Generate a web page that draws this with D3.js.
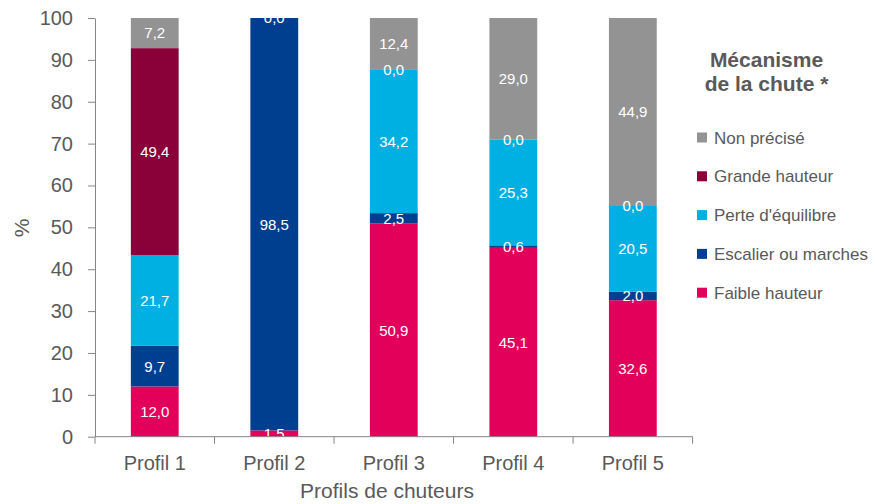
<!DOCTYPE html>
<html><head><meta charset="utf-8">
<script src="https://cdn.jsdelivr.net/npm/d3@7"></script>
<style>body{margin:0;background:#fff}svg{display:block;font-family:"Liberation Sans",Arial,sans-serif}</style>
</head><body><svg id="c" width="876" height="504"></svg>
<script>
const categories = ["Profil 1","Profil 2","Profil 3","Profil 4","Profil 5"];
const seriesNames = ["Faible hauteur","Escalier ou marches","Perte d'équilibre","Grande hauteur","Non précisé"];
const faible     = [12.0, 1.5, 50.9, 45.1, 32.6];
const escalier   = [9.7, 98.5, 2.5, 0.6, 2.0];
const perte      = [21.7, null, 34.2, 25.3, 20.5];
const grande     = [49.4, 0.0, 0.0, 0.0, 0.0];
const nonPrecise = [7.2, null, 12.4, 29.0, 44.9];
const yTicks = [0,10,20,30,40,50,60,70,80,90,100];
const colors = ["#E2005A","#003F8F","#00B0E2","#8A0039","#939393"];
const seriesValues = [faible, escalier, perte, grande, nonPrecise];

const svg = d3.select("#c");
const W = 876, H = 504;
const m = {l:95, r:W-692.6, t:18, b:H-436.7};
const x = d3.scaleBand().domain(categories).range([m.l, W-m.r]).paddingInner(0.6).paddingOuter(0.3);
const y = d3.scaleLinear().domain([0,100]).range([H-m.b, m.t]);

const rows = categories.map((c,i)=>{const o={cat:c}; seriesNames.forEach((s,j)=>o[s]=seriesValues[j][i]||0); return o;});
const stack = d3.stack().keys(seriesNames)(rows);

svg.append("clipPath").attr("id","clip").append("rect")
  .attr("x",m.l).attr("y",m.t).attr("width",W-m.r-m.l).attr("height",H-m.b-m.t);

const g = svg.append("g");
stack.forEach((layer,j)=>{
  g.selectAll(null).data(layer).enter().append("rect")
    .attr("x",d=>x(d.data.cat)).attr("width",x.bandwidth())
    .attr("y",d=>y(d[1])).attr("height",d=>y(d[0])-y(d[1]))
    .attr("fill",colors[j]);
});
const lg = svg.append("g").attr("clip-path","url(#clip)");
stack.forEach((layer,j)=>{
  layer.forEach((d,i)=>{
    const v = seriesValues[j][i];
    if (v===null || v===undefined) return;
    lg.append("text").attr("x",x(d.data.cat)+x.bandwidth()/2)
      .attr("y",(y(d[0])+y(d[1]))/2).attr("dy","0.36em")
      .attr("text-anchor","middle").attr("fill","#fff").attr("font-size",15)
      .text(d3.format(".1f")(v).replace(".",","));
  });
});

// axes
const axisColor = "#868686", textColor = "#595959";
const ya = svg.append("g").attr("transform",`translate(${m.l},0)`)
  .call(d3.axisLeft(y).tickValues(yTicks).tickSize(7).tickPadding(15).tickSizeOuter(0));
ya.select(".domain").attr("stroke",axisColor);
ya.selectAll(".tick line").attr("stroke",axisColor);
ya.selectAll(".tick text").attr("fill",textColor).attr("font-size",20).attr("font-family","Liberation Sans, Arial, sans-serif");

const xa = svg.append("g").attr("transform",`translate(0,${H-m.b})`);
xa.append("line").attr("x1",m.l).attr("x2",W-m.r).attr("stroke",axisColor);
const step = x.step();
d3.range(categories.length+1).forEach(i=>{
  const xx = m.l + i*step;
  xa.append("line").attr("x1",xx).attr("x2",xx).attr("y1",0).attr("y2",7).attr("stroke",axisColor);
});
xa.selectAll("text.cat").data(categories).enter().append("text")
  .attr("x",d=>x(d)+x.bandwidth()/2).attr("y",33.5).attr("text-anchor","middle")
  .attr("fill",textColor).attr("font-size",20).text(d=>d);

svg.append("text").attr("x",387).attr("y",498).attr("text-anchor","middle")
  .attr("fill",textColor).attr("font-size",21).text("Profils de chuteurs");
svg.append("text").attr("transform","translate(29,228) rotate(-90)").attr("text-anchor","middle")
  .attr("fill",textColor).attr("font-size",21).text("%");

// legend
const lgd = svg.append("g");
lgd.append("text").attr("x",766.5).attr("y",67).attr("text-anchor","middle").attr("font-weight","bold")
  .attr("fill",textColor).attr("font-size",21).text("Mécanisme");
lgd.append("text").attr("x",766.5).attr("y",91).attr("text-anchor","middle").attr("font-weight","bold")
  .attr("fill",textColor).attr("font-size",21).text("de la chute *");
const order = [4,3,2,1,0];
order.forEach((j,k)=>{
  const cy = 137.5 + k*38.8;
  lgd.append("rect").attr("x",697).attr("y",cy-5).attr("width",10).attr("height",10).attr("fill",colors[j]);
  lgd.append("text").attr("x",714).attr("y",cy).attr("dy","0.36em").attr("fill",textColor)
    .attr("font-size",17).text(seriesNames[j]);
});
</script></body></html>
